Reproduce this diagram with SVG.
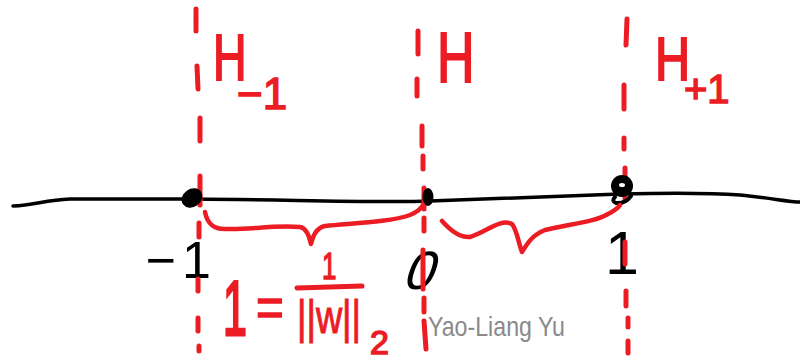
<svg xmlns="http://www.w3.org/2000/svg" width="800" height="356" viewBox="0 0 800 356">
<style>
.red{fill:#ec1c24;font-family:"Liberation Sans",Arial,sans-serif;}
.blk{fill:#000;font-family:"Liberation Sans",Arial,sans-serif;}
.dash{stroke:#ec1c24;stroke-width:5;stroke-linecap:round;fill:none;}
.brace{stroke:#ec1c24;stroke-width:4.5;stroke-linecap:round;stroke-linejoin:round;fill:none;}
.axis{stroke:#000;stroke-width:3.5;stroke-linecap:round;fill:none;}
.sig{fill:#8a8a8a;font-family:"Liberation Sans",Arial,sans-serif;}
</style>
<rect width="800" height="356" fill="#fff"/>

<g id="axis">
<path class="axis" d="M13,206 C35,205 45,200 70,199 L195,199 C300,200 380,203 430,201 C500,199 560,196 620,194 C660,193 700,192 740,195 C770,198 790,202 800,202"/>
</g>

<g id="labels-black">
<text class="blk" font-size="52" x="145.5" y="278">−<tspan dx="6">1</tspan></text>
<text class="blk" font-size="54" transform="translate(401,289) skewX(-20)">0</text>
<text class="blk" font-size="61" x="605" y="274">1</text>
</g>

<g id="hyperplanes">
<g id="H-1">
<line class="dash" x1="196" y1="9" x2="196" y2="31"/>
<line class="dash" x1="197" y1="66" x2="198" y2="89"/>
<line class="dash" x1="200" y1="118" x2="200" y2="141"/>
<line class="dash" x1="200" y1="176" x2="200" y2="205"/>
<line class="dash" x1="199" y1="223" x2="199" y2="237"/>
<line class="dash" x1="198" y1="279" x2="198" y2="291"/>
<line class="dash" x1="198" y1="318" x2="198" y2="331"/>
<line class="dash" x1="199" y1="346" x2="199" y2="351"/>
</g>
<g id="H">
<line class="dash" x1="418" y1="31" x2="418" y2="54"/>
<line class="dash" x1="417" y1="79" x2="417" y2="96"/>
<line class="dash" x1="422" y1="126" x2="422" y2="146"/>
<line class="dash" x1="423" y1="156" x2="423" y2="169"/>
<line class="dash" x1="424" y1="188" x2="424" y2="209"/>
<line class="dash" x1="424" y1="218" x2="424" y2="231"/>
<line class="dash" x1="423" y1="250" x2="423" y2="289" stroke-width="6"/>
<line class="dash" x1="424" y1="298" x2="424" y2="312"/>
<line class="dash" x1="424" y1="321" x2="426" y2="349" stroke-width="6"/>
</g>
<g id="H+1">
<line class="dash" x1="627" y1="19" x2="626" y2="45"/>
<line class="dash" x1="624" y1="85" x2="624" y2="109"/>
<line class="dash" x1="624" y1="138" x2="624" y2="149"/>
<line class="dash" x1="625" y1="168" x2="625" y2="199"/>
<line class="dash" x1="625" y1="242" x2="625" y2="264"/>
<line class="dash" x1="626" y1="291" x2="626" y2="306"/>
<line class="dash" x1="628" y1="318" x2="628" y2="327"/>
<line class="dash" x1="628" y1="341" x2="628" y2="353"/>
</g>
</g>

<g id="points">
<ellipse cx="192" cy="198" rx="11" ry="9" transform="rotate(-35 192 198)" fill="#000"/>
<ellipse cx="428" cy="197" rx="5.5" ry="9" fill="#000"/>
<circle cx="622" cy="186" r="11" fill="#000"/>
<path d="M615,197 Q611,201 616,203 Q625,204 631,196" stroke="#000" stroke-width="4" fill="none" stroke-linecap="round"/>
<ellipse cx="622" cy="185" rx="3" ry="2" fill="#fff"/>
</g>

<g id="braces">
<path class="brace" d="M205,212 C207,222 212,229 225,229 C250,230 270,225 300,227 C306,228 309,235 311,244 C313,236 316,228 325,226 C355,223 390,222 410,215 C417,212 421,209 423,205"/>
<path class="brace" stroke-width="5.5" d="M442,221 C450,230 460,238 470,237 C485,233 500,218 512,224 C517,230 519,245 522,252 C527,244 532,235 545,230 C570,224 595,222 608,214 C614,211 618,208 620,205"/>
</g>

<g id="labels-red">
<text class="red" font-size="65.6" transform="translate(213,80) scale(0.71,1)" stroke="#ec1c24" stroke-width="2">H</text>
<text class="red" font-size="44" x="237" y="109" stroke="#ec1c24" stroke-width="1.5">−1</text>
<text class="red" font-size="69.8" transform="translate(437,82) scale(0.745,1)" stroke="#ec1c24" stroke-width="2">H</text>
<text class="red" font-size="61.5" transform="translate(655,80) scale(0.79,1)" stroke="#ec1c24" stroke-width="2">H</text>
<text class="red" font-size="40" x="684" y="103" stroke="#ec1c24" stroke-width="1.5">+1</text>
<text class="red" font-size="78" transform="translate(223,335) scale(0.55,1)" stroke="#ec1c24" stroke-width="3">1</text>
<text class="red" font-size="56" transform="translate(256,326) scale(0.85,1)" stroke="#ec1c24" stroke-width="1.5">=</text>
<text class="red" font-size="37" transform="translate(322,279) scale(0.7,1)" stroke="#ec1c24" stroke-width="1.5">1</text>
<line x1="297" y1="288" x2="362" y2="286" stroke="#ec1c24" stroke-width="5" stroke-linecap="round"/>
<text class="red" font-size="46" x="297" y="333" textLength="64" lengthAdjust="spacingAndGlyphs" stroke="#ec1c24" stroke-width="1">||w||</text>
<text class="red" font-size="34" x="370" y="354" stroke="#ec1c24" stroke-width="1.5">2</text>
</g>

<text class="sig" font-size="28" x="428" y="336" textLength="137" lengthAdjust="spacingAndGlyphs">Yao-Liang Yu</text>
</svg>
